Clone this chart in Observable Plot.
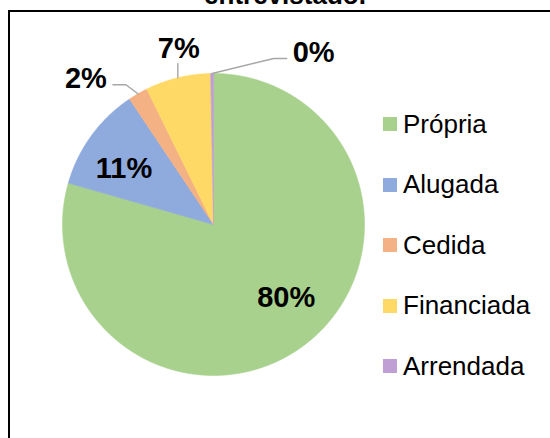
<!DOCTYPE html>
<html>
<head>
<meta charset="utf-8">
<script src="https://cdn.jsdelivr.net/npm/d3@7"></script>
<script src="https://cdn.jsdelivr.net/npm/@observablehq/plot@0.6"></script>
<style>
  html, body { margin: 0; padding: 0; background: #fff; overflow: hidden; }
  #wrap { position: relative; width: 550px; height: 438px; overflow: hidden; font-family: "Liberation Sans", Arial, sans-serif; }
  #title { position: absolute; left: 10px; top: -18px; width: 550px; text-align: center; font-size: 26px; line-height: 26px; font-weight: bold; color: #000; white-space: nowrap; }
  #box { position: absolute; left: 8px; top: 10px; width: 700px; height: 600px; border: 2px solid #000; pointer-events: none; }
  #chart { position: absolute; left: 0; top: 0; }
  #legend { position: absolute; left: 383px; top: 93.75px; }
  .row { display: flex; align-items: center; height: 60.5px; }
  .sw { width: 14px; height: 14px; margin-right: 6px; }
  .lt { font-size: 26px; color: #000; white-space: nowrap; }
</style>
</head>
<body>
<div id="wrap">
  <div id="title"></div>
  <div id="chart"></div>
  <div id="legend"></div>
  <div id="box"></div>
</div>
<script>
// ---- data ----
const categories = ["Própria", "Alugada", "Cedida", "Financiada", "Arrendada"];
const shares = [79.5, 11.2, 2.1, 7.0, 0.3];
const percentLabels = ["80%", "11%", "2%", "7%", "0%"];
const colors = ["#A9D18E", "#8FAADC", "#F4B183", "#FFD966", "#C0A0D4"];
const titleText = "entrevistado.";

// ---- layout (pixels) ----
const W = 550, H = 438;
const CX_PX = 213, CY_PX = 224, R_PX = 151;
const insideR = 0.7;
const outsideThreshold = 8; // % below which label goes outside
// label nudges in px: inside ones relative to mid-angle point at insideR, outside ones relative to slice edge
const labelNudgePx = [[9, -11], [-4, 6], [-52, -15], [1, -29], [101.6, -21]];

document.getElementById("title").textContent = titleText;

const total = d3.sum(shares);
let acc = 0;
const slices = shares.map((v, i) => {
  const a0 = acc / total * 360;
  acc += v;
  const a1 = acc / total * 360;
  return {name: categories[i], i, a0, a1, mid: (a0 + a1) / 2, share: v};
});
const rad = d => d * Math.PI / 180;
const polar = (deg, r) => ({x: r * Math.sin(rad(deg)), y: r * Math.cos(rad(deg))});

// slice polygons (arc geometry)
const piePts = [];
for (const s of slices) {
  piePts.push({name: s.name, x: 0, y: 0});
  const step = 0.25;
  for (let a = s.a0; a < s.a1; a += step) piePts.push({name: s.name, ...polar(a, 1)});
  piePts.push({name: s.name, ...polar(s.a1, 1)});
  piePts.push({name: s.name, x: 0, y: 0});
}

// labels & leader lines
const labels = [];
const leaders = [];
for (const s of slices) {
  const [nx, ny] = labelNudgePx[s.i];
  const outside = s.share < outsideThreshold;
  const base = polar(s.mid, outside ? 1 : insideR);
  const lx = base.x + nx / R_PX, ly = base.y - ny / R_PX;
  labels.push({text: percentLabels[s.i], x: lx, y: ly});
  if (outside) {
    if (Math.abs(nx) > 25) {
      const sign = Math.sign(nx);
      const ex = lx - sign * 27 / R_PX, ey = ly - 6 / R_PX;
      const bx = ex - sign * 13 / R_PX;
      leaders.push({id: s.i, x: base.x, y: base.y}, {id: s.i, x: bx, y: ey}, {id: s.i, x: ex, y: ey});
    } else {
      leaders.push({id: s.i, x: base.x, y: base.y}, {id: s.i, x: base.x, y: ly - 15 / R_PX});
    }
  }
}

const chart = Plot.plot({
  width: W,
  height: H,
  margin: 0,
  style: {background: "transparent", fontFamily: "'Liberation Sans', Arial, sans-serif"},
  x: {domain: [-CX_PX / R_PX, (W - CX_PX) / R_PX], axis: null},
  y: {domain: [(CY_PX - H) / R_PX, CY_PX / R_PX], axis: null},
  color: {domain: categories, range: colors},
  marks: [
    Plot.line(piePts, {x: "x", y: "y", z: "name", fill: "name", stroke: "name", strokeWidth: 0.6, curve: "linear"}),
    Plot.line(leaders, {x: "x", y: "y", z: "id", stroke: "#A6A6A6", strokeWidth: 1.4, curve: "linear"}),
    Plot.text(labels, {x: "x", y: "y", text: "text", fontSize: 29, fontWeight: "bold", fill: "#000", lineAnchor: "middle", textAnchor: "middle"})
  ]
});
document.getElementById("chart").appendChild(chart);

// legend
const legend = document.getElementById("legend");
categories.forEach((c, i) => {
  const row = document.createElement("div");
  row.className = "row";
  const sw = document.createElement("div");
  sw.className = "sw";
  sw.style.background = colors[i];
  const t = document.createElement("span");
  t.className = "lt";
  t.textContent = c;
  row.appendChild(sw);
  row.appendChild(t);
  legend.appendChild(row);
});
</script>
</body>
</html>
